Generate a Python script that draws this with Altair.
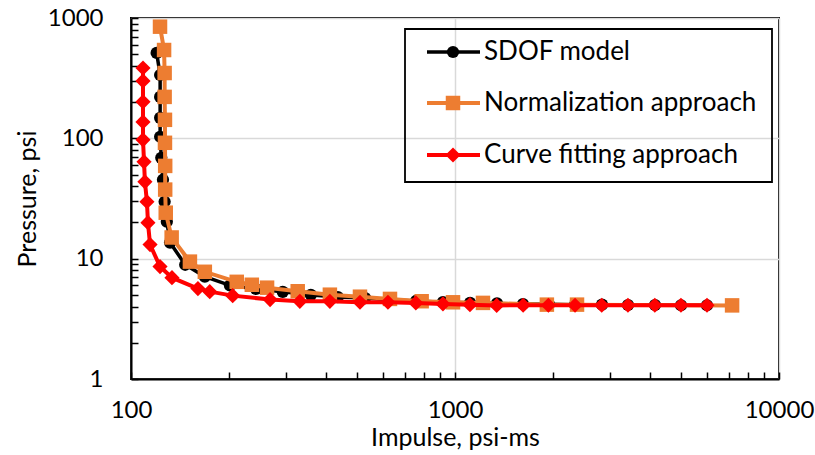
import altair as alt
import pandas as pd

# ---- data ----
sdof_x = [120, 123, 123, 123, 123, 124, 125.5, 127, 129, 132, 147, 169, 202, 243, 294,
          359, 435, 528, 630, 758, 918, 1113, 1348, 1621, 1950, 2347, 2843, 3420, 4143, 4984, 5995]
sdof_y = [513, 336, 221, 148, 103, 68.9, 45.3, 29.7, 20.3, 13.6, 8.9, 7.1, 6.0, 5.6, 5.3,
          5.0, 4.8, 4.7, 4.55, 4.45, 4.35, 4.3, 4.25, 4.2, 4.18, 4.15, 4.15, 4.12, 4.12, 4.1, 4.1]

norm_x = [122.9, 126.5, 127, 127, 127.3, 127.3, 127.5, 127.5, 128, 133.5, 152, 169, 212, 236, 263,
          327, 411, 509, 630, 789, 986, 1220, 1921, 2380, 7165]
norm_y = [847, 542, 349, 221, 142.5, 91.8, 59, 37.5, 24.1, 15.0, 9.45, 7.78, 6.42, 6.07, 5.74,
          5.36, 5.02, 4.83, 4.63, 4.43, 4.34, 4.29, 4.15, 4.15, 4.09]

curve_x = [108.9, 108.9, 108.9, 108.9, 108.9, 109.7, 110.4, 112, 112.8, 114.5, 122.9, 133.8, 160.9,
           175, 206, 268.7, 332, 411, 509, 621, 757, 918, 1112, 1345, 1623, 1942, 2347, 2837,
           3418, 4138, 4982, 5995]
curve_y = [384, 300, 201, 137, 97.2, 63.8, 43.5, 29.7, 19.9, 13.1, 8.6, 6.95, 5.64, 5.32, 4.93,
           4.57, 4.42, 4.42, 4.34, 4.34, 4.29, 4.21, 4.15, 4.09, 4.1, 4.1, 4.1, 4.1, 4.1, 4.1,
           4.1, 4.1]

series_names = ["SDOF model", "Normalization approach", "Curve fitting approach"]
series_colors = ["#000000", "#ED7D31", "#FF0000"]
series_shapes = ["circle", "square", "diamond"]

x_major = [100, 1000, 10000]
y_major = [1, 10, 100, 1000]
x_all_ticks = [100, 200, 300, 400, 500, 600, 700, 800, 900, 1000,
               2000, 3000, 4000, 5000, 6000, 7000, 8000, 9000, 10000]
y_all_ticks = [1, 2, 3, 4, 5, 6, 7, 8, 9, 10, 20, 30, 40, 50, 60, 70, 80, 90, 100,
               200, 300, 400, 500, 600, 700, 800, 900, 1000]

W, H = 648, 361
FONT = "Lato"


def is_major(values):
    return "indexof([" + ",".join(str(v) for v in values) + "], datum.value) >= 0"


xs = alt.Scale(type="log", domain=[100, 10000], nice=False)
ys = alt.Scale(type="log", domain=[1, 1000], nice=False)

# one axis per direction: every tick drawn inward (negative size via expression),
# labels and grid lines only on the decades
x_axis = alt.Axis(values=x_all_ticks, format="d", title="Impulse, psi-ms",
                  ticks=True, tickSize={"expr": "-7"}, tickWidth=1.5, tickColor="black",
                  labelExpr=is_major(x_major) + " ? datum.label : ''",
                  labelOverlap=False, labelPadding=26, titlePadding=3, grid=True,
                  gridOpacity={"condition": {"test": is_major(x_major), "value": 1}, "value": 0})
y_axis = alt.Axis(values=y_all_ticks, format="d", title="Pressure, psi",
                  ticks=True, tickSize={"expr": "-7"}, tickWidth=1.5, tickColor="black",
                  labelExpr=is_major(y_major) + " ? datum.label : ''",
                  labelOverlap=False, labelPadding=35, titlePadding=7, grid=True,
                  gridOpacity={"condition": {"test": is_major(y_major), "value": 1}, "value": 0})

marker_sizes = [150, 210, 230]
line_widths = [3.5, 4, 4]
xlist = [sdof_x, norm_x, curve_x]
ylist = [sdof_y, norm_y, curve_y]

layers = []
for i, name in enumerate(series_names):
    df = pd.DataFrame({"x": xlist[i], "y": ylist[i], "s": name})
    base = alt.Chart(df).transform_window(idx="row_number()").encode(
        x=alt.X("x:Q", scale=xs, axis=x_axis),
        y=alt.Y("y:Q", scale=ys, axis=y_axis),
        order=alt.Order("idx:Q"))
    layers.append(base.mark_line(color=series_colors[i], strokeWidth=line_widths[i]))
    layers.append(base.mark_point(shape=series_shapes[i], filled=True, opacity=1,
                                  color=series_colors[i], size=marker_sizes[i]))

# legend (drawn manually)
leg_rows = [34, 85, 137]
for i, name in enumerate(series_names):
    lc = alt.Chart(pd.DataFrame({"label": [name]}))
    layers.append(lc.mark_rule(color=series_colors[i], strokeWidth=line_widths[i]).encode(
        x=alt.value(296), x2=alt.value(349), y=alt.value(leg_rows[i])))
    layers.append(lc.mark_point(shape=series_shapes[i], filled=True, opacity=1,
                                color=series_colors[i], size=marker_sizes[i]).encode(
        x=alt.value(322), y=alt.value(leg_rows[i])))
    layers.append(lc.mark_text(align="left", baseline="middle", font=FONT, fontSize=26,
                               color="black").encode(
        text="label:N", x=alt.value(353), y=alt.value(leg_rows[i])))

box = alt.Chart(pd.DataFrame({"label": ["legend"]})).mark_rect(
    fillOpacity=0, stroke="black", strokeWidth=1.8).encode(
    x=alt.value(274), x2=alt.value(641), y=alt.value(11), y2=alt.value(164))
layers.append(box)

chart = alt.layer(*layers).properties(
    width=W, height=H,
    autosize=alt.AutoSizeParams(type="none"),
    padding={"left": 131, "top": 18, "right": 36, "bottom": 76},
    background="white",
).configure_view(stroke="black", strokeWidth=2).configure_axis(
    domainColor="black", domainWidth=2, gridColor="#D9D9D9", gridWidth=1.5,
    labelFont=FONT, labelFontSize=24, labelColor="black", labelFontWeight="normal",
    titleFont=FONT, titleFontSize=25, titleColor="black", titleFontWeight="normal",
    labelFlush=False,
)

chart.save("out.html", embed_options={"renderer": "svg", "actions": False})
